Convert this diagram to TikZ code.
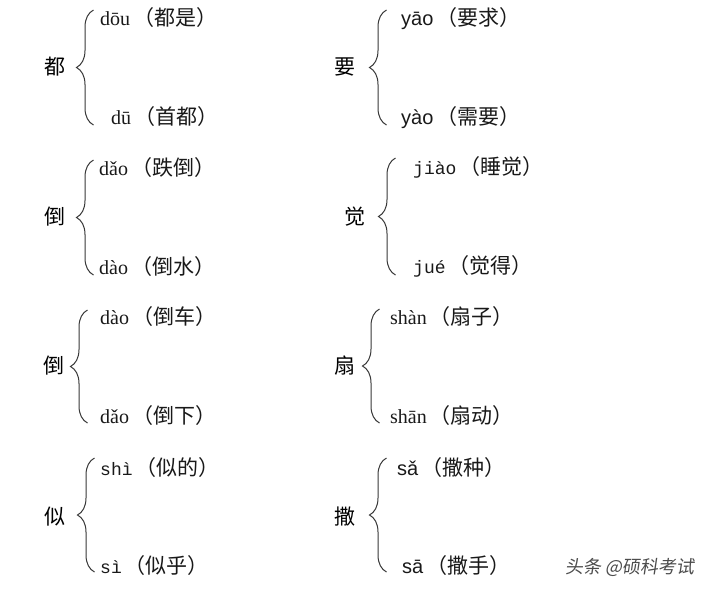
\documentclass[tikz,border=0pt]{standalone}
\usepackage{fontspec}
\setmainfont{Liberation Serif}
\newfontfamily\cjk[Scale=1.05]{Noto Sans CJK SC}
\newfontfamily\pys{Liberation Sans}
\newfontfamily\pym[Scale=0.9]{Liberation Mono}
\newfontfamily\wmark[FakeSlant=0.15]{Noto Sans CJK SC}
\usetikzlibrary{decorations.pathreplacing}
\newcommand{\zi}[1]{{\cjk\hspace{3pt}#1}}

\begin{document}
\begin{tikzpicture}[x=1pt, y=-1pt,
  curly/.style={decorate, decoration={brace, amplitude=17pt}, line width=1pt, draw=black!78},
  head/.style={anchor=base, inner sep=0pt, font=\fontsize{20}{24}\selectfont\cjk},
  reading/.style={anchor=base west, inner sep=0pt, text=black!90, font=\fontsize{20}{24}\selectfont}]
\fill[white] (0,0) rectangle (710,590);
\useasboundingbox (0,0) rectangle (710,590);
% left column
\node[head] (dou) at (55,74) {都};
\node[reading] (dou-a) at (100,25) {dōu\zi{（都是）}};
\node[reading] (dou-b) at (111,124) {dū\zi{（首都）}};
\coordinate (dou-t) at (93.5,10);
\coordinate (dou-e) at (93.5,125);
\draw[curly] (dou-e) -- (dou-t);
\node[head] (daoA) at (55,224) {倒};
\node[reading] (daoA-a) at (99,175) {dǎo\zi{（跌倒）}};
\node[reading] (daoA-b) at (99,274) {dào\zi{（倒水）}};
\coordinate (daoA-t) at (93.5,160);
\coordinate (daoA-e) at (93.5,275);
\draw[curly] (daoA-e) -- (daoA-t);
\node[head] (daoB) at (54,373) {倒};
\node[reading] (daoB-a) at (100,324) {dào\zi{（倒车）}};
\node[reading] (daoB-b) at (100,423) {dǎo\zi{（倒下）}};
\coordinate (daoB-t) at (87.5,310);
\coordinate (daoB-e) at (87.5,423);
\draw[curly] (daoB-e) -- (daoB-t);
\node[head] (si) at (55,524) {似};
\node[reading] (si-a) at (100,475) {{\pym shì}\zi{（似的）}};
\node[reading] (si-b) at (100,573) {{\pym sì}\zi{（似乎）}};
\coordinate (si-t) at (94.5,458);
\coordinate (si-e) at (94.5,572);
\draw[curly] (si-e) -- (si-t);
% right column
\node[head] (yao) at (345,74) {要};
\node[reading] (yao-a) at (401,25) {{\pys yāo}\zi{（要求）}};
\node[reading] (yao-b) at (401,124) {{\pys yào}\zi{（需要）}};
\coordinate (yao-t) at (386.5,10);
\coordinate (yao-e) at (386.5,125);
\draw[curly] (yao-e) -- (yao-t);
\node[head] (jue) at (355,224) {觉};
\node[reading] (jue-a) at (413,174) {{\pym jiào}\zi{（睡觉）}};
\node[reading] (jue-b) at (413,273) {{\pym jué}\zi{（觉得）}};
\coordinate (jue-t) at (395.5,158);
\coordinate (jue-e) at (395.5,275);
\draw[curly] (jue-e) -- (jue-t);
\node[head] (shan) at (345,373) {扇};
\node[reading] (shan-a) at (390,324) {shàn\zi{（扇子）}};
\node[reading] (shan-b) at (390,423) {shān\zi{（扇动）}};
\coordinate (shan-t) at (379.5,309);
\coordinate (shan-e) at (379.5,423);
\draw[curly] (shan-e) -- (shan-t);
\node[head] (sa) at (345,524) {撒};
\node[reading] (sa-a) at (397,475) {{\pys sǎ}\zi{（撒种）}};
\node[reading] (sa-b) at (402,573) {{\pys sā}\zi{（撒手）}};
\coordinate (sa-t) at (386.5,458);
\coordinate (sa-e) at (386.5,572);
\draw[curly] (sa-e) -- (sa-t);
% watermark
\node[anchor=base west, inner sep=0pt, text=black!70, font=\fontsize{18}{20}\selectfont\wmark] (mark) at (565,573) {头条 @硕科考试};
\end{tikzpicture}
\end{document}
